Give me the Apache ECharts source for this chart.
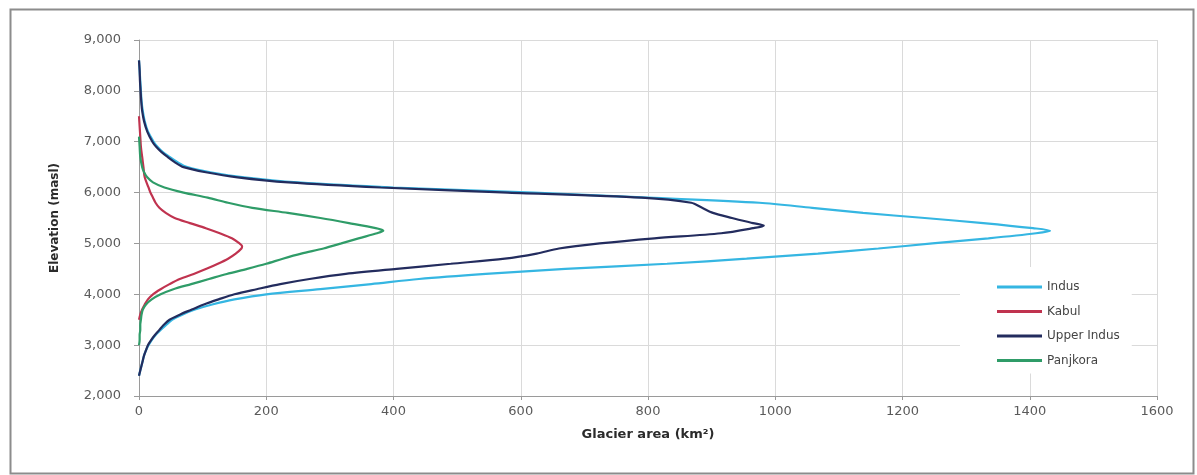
<!DOCTYPE html>
<html>
<head>
<meta charset="utf-8">
<script src="https://cdn.jsdelivr.net/npm/echarts@6/dist/echarts.min.js"></script>
<style>
html,body{margin:0;padding:0;background:#fff;}
#c{width:1197px;height:475px;}
</style>
</head>
<body>
<div id="c"></div>
<script>
const xTicks = [0, 200, 400, 600, 800, 1000, 1200, 1400, 1600];
const yTicks = [2000, 3000, 4000, 5000, 6000, 7000, 8000, 9000];
const seriesNames = ['Indus', 'Kabul', 'Upper Indus', 'Panjkora'];

const indusElev = [8600,8400,8200,8000,7800,7600,7400,7200,7000,6900,6800,6700,6600,6500,6400,6300,6200,6100,6000,5900,5800,5700,5600,5500,5400,5300,5250,5200,5100,5000,4900,4800,4700,4600,4500,4400,4300,4200,4100,4000,3900,3800,3700,3600,3500,3400,3300,3200,3100,3000,2900,2800,2700,2600,2500,2400];
const indusArea = [0,1,2,3,4,6,9,14,23,29,37,48,60,76,112,165,250,400,620,800,975,1058,1138,1235,1327,1405,1432,1410,1335,1247,1162,1067,955,830,670,545,440,365,285,200,150,115,88,68,52,43,34,26,20,15,11,8,6,4,2,0];

const kabulElev = [7500,7300,7100,6900,6700,6500,6300,6100,6000,5900,5800,5700,5600,5500,5400,5300,5200,5100,5000,4950,4900,4800,4700,4600,4500,4400,4300,4200,4100,4000,3900,3800,3700,3600,3500];
const kabulArea = [0,1,2,3,5,7,9,15,18,22,26,32,42,56,80,105,127,146,158,162,161,152,140,124,106,86,64,48,34,22,14,9,5,2,0];

const upperIndusElev = [8600,8400,8200,8000,7800,7600,7400,7200,7000,6900,6800,6700,6600,6500,6400,6300,6200,6100,6000,5900,5800,5700,5600,5500,5400,5350,5300,5200,5100,5000,4900,4800,4700,4600,4500,4400,4300,4200,4100,4000,3900,3800,3700,3600,3500,3400,3300,3200,3100,3000,2900,2800,2700,2600,2500,2400];
const upperIndusArea = [0,1,1.5,2.5,3.5,5,8,13,21,27,35,45,56,70,105,155,235,380,580,790,868,885,902,932,965,982,965,915,810,724,660,625,575,490,405,325,268,222,185,150,125,102,83,64,48,39,32,25,19,14,11,8,6,4,2,0];

const panjkoraElev = [7100,6900,6700,6500,6400,6300,6200,6100,6000,5900,5800,5700,5600,5500,5400,5300,5250,5200,5100,5000,4900,4800,4700,4600,4500,4400,4300,4200,4100,4000,3900,3800,3700,3600,3500,3400,3300,3200,3100,3000];
const panjkoraArea = [0,1,2,5,8,13,22,40,70,108,140,178,234,285,330,372,384,374,345,318,290,255,226,200,170,138,110,82,54,34,20,11,6,4,3,2,2,1,1,0];

const colors = ['#35b6e2', '#c0334f', '#232c5e', '#2f9c68'];

function pairs(area, elev) { return area.map((a, i) => [a, elev[i]]); }
const seriesData = [
  pairs(indusArea, indusElev),
  pairs(kabulArea, kabulElev),
  pairs(upperIndusArea, upperIndusElev),
  pairs(panjkoraArea, panjkoraElev)
];

const font = 'DejaVu Sans';
const chart = echarts.init(document.getElementById('c'), null, {renderer: 'canvas'});
chart.setOption({
  backgroundColor: '#fff',
  animation: false,
  textStyle: {fontFamily: font},
  grid: {left: 139, right: 40, top: 40, bottom: 79, containLabel: false},
  graphic: [{
    type: 'rect', left: 8, top: 7, z: -1,
    shape: {width: 1183, height: 464},
    style: {fill: 'none', stroke: '#8c8c8c', lineWidth: 2}
  }],
  legend: {
    data: seriesNames,
    orient: 'vertical',
    left: 960, top: 267,
    padding: [13, 12, 6, 37],
    backgroundColor: '#fff',
    itemWidth: 45, itemHeight: 3, itemGap: 10.5,
    icon: 'rect',
    textStyle: {fontFamily: font, fontSize: 12, color: '#444', lineHeight: 14, padding: [0,0,0,0]},
    z: 10
  },
  xAxis: {
    type: 'value', min: 0, max: 1600, interval: 200,
    name: 'Glacier area (km²)', nameLocation: 'middle', nameGap: 32,
    nameTextStyle: {fontFamily: font, fontSize: 13, fontWeight: 'bold', color: '#2b2b2b'},
    axisLine: {show: true, lineStyle: {color: '#9a9a9a', width: 1}},
    axisTick: {show: true, length: 4, lineStyle: {color: '#9a9a9a'}},
    axisLabel: {fontFamily: font, fontSize: 13, color: '#5a5a5a', margin: 9,
      formatter: v => xTicks.includes(v) ? String(v) : ''},
    splitLine: {show: true, lineStyle: {color: '#dadada', width: 1}}
  },
  yAxis: {
    type: 'value', min: 2000, max: 9000, interval: 1000,
    name: 'Elevation (masl)', nameLocation: 'middle', nameGap: 78, nameRotate: 90,
    nameTextStyle: {fontFamily: font, fontSize: 12, fontWeight: 'bold', color: '#2b2b2b'},
    axisLine: {show: true, lineStyle: {color: '#9a9a9a', width: 1}},
    axisTick: {show: true, length: 5, lineStyle: {color: '#9a9a9a'}},
    axisLabel: {fontFamily: font, fontSize: 13, color: '#5a5a5a', margin: 18,
      formatter: v => yTicks.includes(v) ? v.toLocaleString('en-US') : ''},
    splitLine: {show: true, lineStyle: {color: '#dadada', width: 1}}
  },
  series: seriesNames.map((n, i) => ({
    name: n, type: 'line', data: seriesData[i],
    showSymbol: false, symbol: 'none', smooth: 0.3,
    color: colors[i],
    lineStyle: {color: colors[i], width: 2.2},
    z: 2 + i
  }))
});
</script>
</body>
</html>
